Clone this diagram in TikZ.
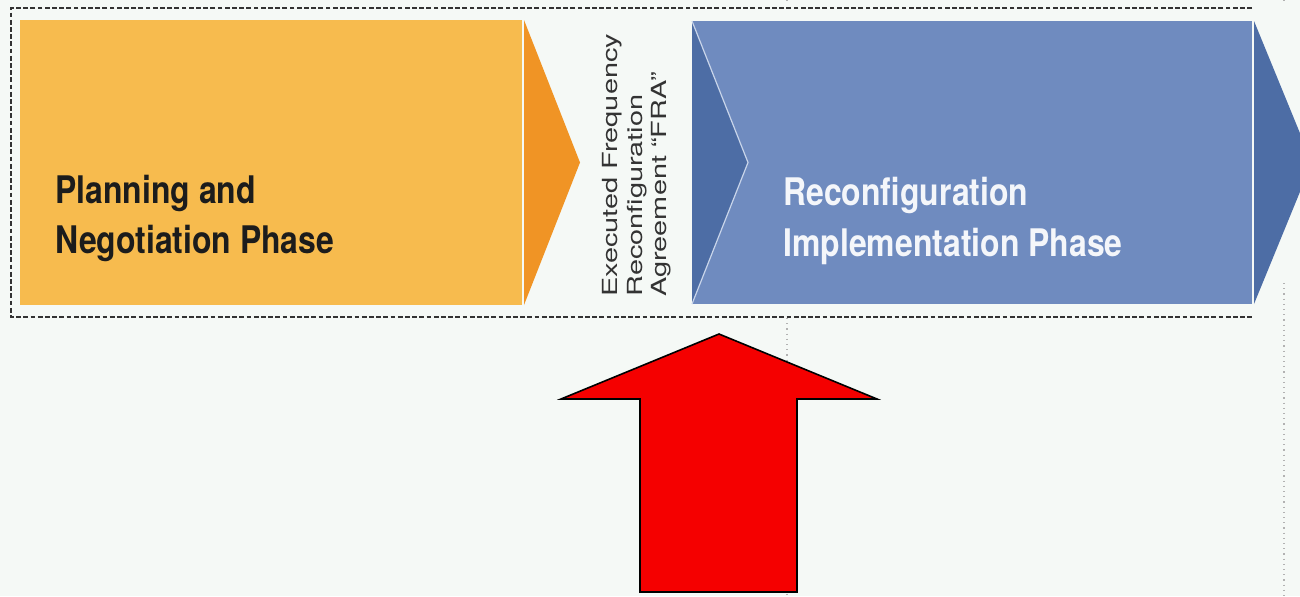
\documentclass[tikz,border=0pt]{standalone}
\usepackage{fontspec}
\newfontfamily\condfont[FakeStretch=0.84]{TeX Gyre Heros}
\newfontfamily\widefont[FakeStretch=1.39]{TeX Gyre Heros}
\definecolor{bgc}{HTML}{F5F9F6}
\definecolor{orlight}{HTML}{F7BB4E}
\definecolor{ordark}{HTML}{F09425}
\definecolor{bllight}{HTML}{6F8BBF}
\definecolor{bldark}{HTML}{4D6DA5}
\definecolor{blline}{HTML}{C9D5EA}
\definecolor{txtdark}{HTML}{1C1C1C}
\definecolor{txtwhite}{HTML}{F4F6FA}
\definecolor{vtext}{HTML}{333333}
\definecolor{arrowred}{HTML}{F50000}
\tikzset{
  phasetext/.style={inner sep=0pt, anchor=base west, font=\condfont\bfseries\fontsize{19}{25}\selectfont},
  vlabel/.style={inner sep=0pt, anchor=base west, rotate=90, text=vtext, font=\widefont\fontsize{10.4}{12}\selectfont},
  gridline/.style={draw=black!30, line width=0.6pt, dotted},
  boxline/.style={draw=black!80, line width=1.1pt, dash pattern=on 2.4pt off 1.2pt},
}
\begin{document}
\begin{tikzpicture}[x=0.5pt,y=-0.5pt]
\useasboundingbox (0,0) rectangle (1300,596);
\clip (0,0) rectangle (1300,596);
\fill[bgc] (0,0) rectangle (1300,596);
% dotted guides
\draw[gridline] (787,318) -- (787,596);
\draw[gridline] (787,0) -- (787,4);
\draw[gridline] (1284,283) -- (1284,596);
\draw[gridline] (1284,0) -- (1284,4);
% dashed frame
\draw[boxline] (1252,8) -- (11,8) -- (11,317) -- (1252,317);
% orange phase
\fill[orlight] (20,20) rectangle (522,305);
\fill[ordark] (524,20) -- (580,162.5) -- (524,305) -- cycle;
\node[phasetext, text=txtdark] (p1) at (55,203) {Planning and};
\node[phasetext, text=txtdark] (p2) at (55,253) {Negotiation Phase};
% vertical label
\node[vlabel] (v1) at (617,297) {Executed Frequency};
\node[vlabel] (v2) at (642,297) {Reconfiguration};
\node[vlabel] (v3) at (666,297) {Agreement “FRA”};
% blue phase
\fill[bllight] (692,21) rectangle (1252,304);
\fill[bldark] (692,21) -- (748,162.5) -- (692,304) -- cycle;
\draw[blline, line width=0.6pt] (692,21) -- (748,162.5) -- (692,304);
\fill[bldark] (1254,21) -- (1312,162.5) -- (1254,304) -- cycle;
\node[phasetext, text=txtwhite] (r1) at (783,205) {Reconfiguration};
\node[phasetext, text=txtwhite] (r2) at (783,256) {Implementation Phase};
% red arrow
\draw[fill=arrowred, draw=black, line width=0.8pt, line join=miter]
  (719,334) -- (877,399) -- (797,399) -- (797,592) -- (640,592) -- (640,399) -- (561,399) -- cycle;
\end{tikzpicture}
\end{document}
